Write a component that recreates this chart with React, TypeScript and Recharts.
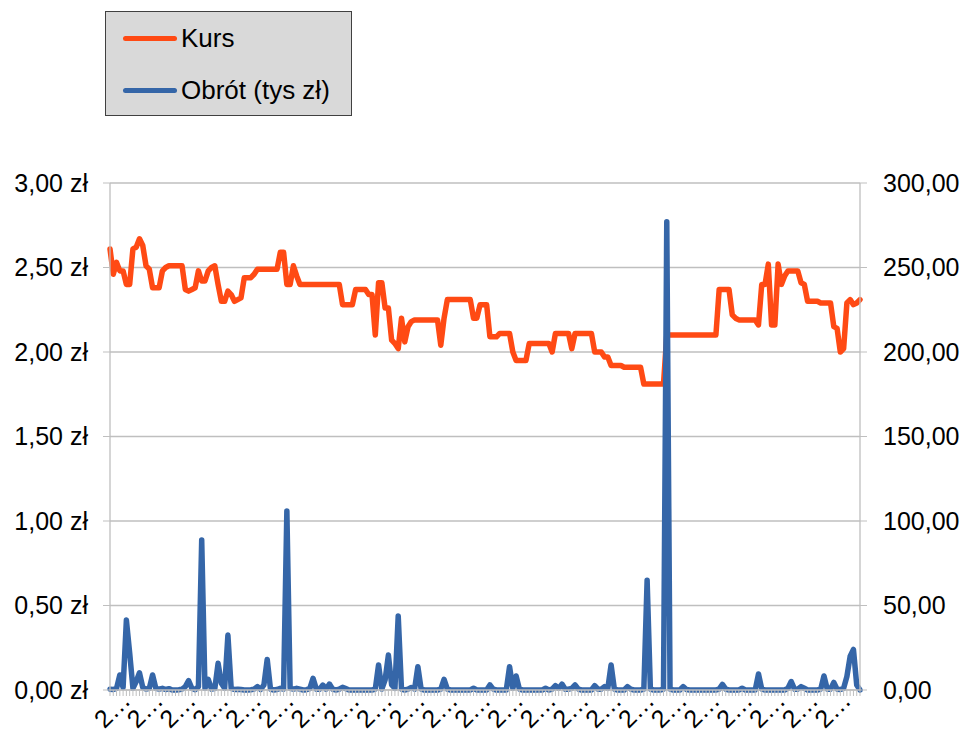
import React from 'react';
import { LineChart, Line, XAxis, YAxis, CartesianGrid } from 'recharts';

// Kurs (zł) – one value per session
const kurs = [
	2.61, 2.46, 2.53, 2.48, 2.48, 2.4, 2.4, 2.61, 2.62, 2.67,
	2.63, 2.51, 2.49, 2.38, 2.38, 2.38, 2.48, 2.5, 2.51, 2.51,
	2.51, 2.51, 2.51, 2.37, 2.36, 2.37, 2.38, 2.48, 2.42, 2.42,
	2.48, 2.5, 2.51, 2.4, 2.3, 2.3, 2.36, 2.34, 2.3, 2.31,
	2.32, 2.44, 2.44, 2.44, 2.46, 2.49, 2.49, 2.49, 2.49, 2.49,
	2.49, 2.49, 2.59, 2.59, 2.4, 2.4, 2.51, 2.45, 2.4, 2.4,
	2.4, 2.4, 2.4, 2.4, 2.4, 2.4, 2.4, 2.4, 2.4, 2.4,
	2.4, 2.28, 2.28, 2.28, 2.28, 2.37, 2.37, 2.37, 2.37, 2.34,
	2.34, 2.1, 2.41, 2.41, 2.26, 2.26, 2.07, 2.05, 2.02, 2.2,
	2.06, 2.15, 2.18, 2.19, 2.19, 2.19, 2.19, 2.19, 2.19, 2.19,
	2.19, 2.04, 2.2, 2.31, 2.31, 2.31, 2.31, 2.31, 2.31, 2.31,
	2.31, 2.2, 2.2, 2.28, 2.28, 2.28, 2.09, 2.09, 2.09, 2.11,
	2.11, 2.11, 2.11, 2.0, 1.95, 1.95, 1.95, 1.95, 2.05, 2.05,
	2.05, 2.05, 2.05, 2.05, 2.05, 2.0, 2.11, 2.11, 2.11, 2.11,
	2.11, 2.02, 2.11, 2.11, 2.11, 2.11, 2.11, 2.11, 2.0, 2.0,
	2.0, 1.97, 1.97, 1.92, 1.92, 1.92, 1.92, 1.91, 1.91, 1.91,
	1.91, 1.91, 1.91, 1.81, 1.81, 1.81, 1.81, 1.81, 1.81, 1.81,
	2.1, 2.1, 2.1, 2.1, 2.1, 2.1, 2.1, 2.1, 2.1, 2.1,
	2.1, 2.1, 2.1, 2.1, 2.1, 2.1, 2.37, 2.37, 2.37, 2.37,
	2.22, 2.2, 2.19, 2.19, 2.19, 2.19, 2.19, 2.19, 2.16, 2.4,
	2.4, 2.52, 2.16, 2.16, 2.52, 2.4, 2.45, 2.48, 2.48, 2.48,
	2.48, 2.41, 2.4, 2.3, 2.3, 2.3, 2.3, 2.29, 2.29, 2.29,
	2.29, 2.15, 2.14, 2.0, 2.02, 2.29, 2.31, 2.28, 2.29, 2.31,
];

// Obrót (tys zł)
const obrot = [
	0.5, 0.3, 1, 8.9, 1.5, 41.4, 22, 1, 5, 10.2,
	1.5, 0.5, 1, 8.9, 1, 0.5, 1, 0.3, 0.8, 0,
	0, 0.2, 0.5, 2, 5.5, 1, 0.2, 2, 88.8, 1,
	6.3, 0.5, 0.8, 15.8, 4, 1, 32.5, 1, 0.3, 0.5,
	0.3, 0, 0, 0.2, 0.5, 2, 0.3, 3, 18.1, 0.5,
	0, 0.3, 1, 0.5, 105.9, 1, 0.5, 1, 0.5, 0,
	0.2, 0.8, 6.9, 0.5, 0.5, 2.9, 0.5, 3.5, 0.5, 0,
	0.5, 1.6, 0.8, 0, 0, 0, 0, 0, 0, 0,
	0, 0.5, 14.8, 0.5, 6, 20.7, 3, 1, 43.8, 0.5,
	0, 0.5, 1.5, 0.5, 13.8, 0.5, 0, 0, 0, 0,
	0, 0.5, 6.3, 0.5, 0, 0, 0, 0, 0, 0,
	0, 1, 0, 0, 0, 0, 3, 0.5, 0, 0,
	0, 0, 13.8, 1, 8.3, 0.5, 0, 0, 0, 0,
	0, 0, 0, 1, 0, 0.5, 2.6, 1, 3.5, 0.5,
	0.5, 1, 3, 0.5, 0, 0, 0, 0, 2.6, 0.5,
	0.5, 2, 1, 14.8, 0.5, 0, 0, 0, 2, 0.5,
	0, 0, 0, 0.5, 65, 0.5, 0, 0, 0, 0.5,
	277, 0.5, 0, 0, 0, 2, 0.3, 0, 0, 0,
	0, 0, 0, 0, 0, 0, 0.5, 3.3, 0.5, 0,
	0, 0, 0, 1, 0, 0, 0, 0, 9.5, 0.5,
	0, 0, 0, 0, 0, 0, 0, 1, 5, 0.5,
	0.5, 2, 1, 0, 0, 0, 0, 0.5, 8.3, 0.5,
	0.5, 4.5, 0.5, 0.3, 1, 8, 20, 24, 3, 0,
];

const kursTicks = [0, 0.5, 1, 1.5, 2, 2.5, 3];
const obrotTicks = [0, 50, 100, 150, 200, 250, 300];
const dateLabel = '2…';
const labelEvery = 10;

const series = [
	{ key: 'kurs', name: 'Kurs', color: '#FF4A14', axis: 'left' },
	{ key: 'obrot', name: 'Obrót (tys zł)', color: '#3566A8', axis: 'right' },
];

const data = kurs.map((k, i) => ({ idx: i, kurs: k, obrot: obrot[i] }));

const FONT = '"Liberation Sans", Arial, sans-serif';
const GRID = '#bfbfbf';

const fmt = (v: number) => v.toFixed(2).replace('.', ',');

function DateTick(props: any) {
	const { x, y, index } = props;
	return (
		<g>
			<line x1={x} y1={y} x2={x} y2={y + 6} stroke={GRID} />
			{index % labelEvery === 0 && (
				<text
					transform={`translate(${x + 22},${y + 12}) rotate(-45)`}
					textAnchor='end'
					fontSize={25}
					fontFamily={FONT}
					fill='#000'
				>
					{dateLabel}
				</text>
			)}
		</g>
	);
}

function LegendBox() {
	return (
		<div
			style={{
				position: 'absolute',
				left: 105,
				top: 11,
				width: 245,
				height: 103,
				background: '#d9d9d9',
				border: '1px solid #404040',
				fontFamily: FONT,
				fontSize: 26,
				color: '#000',
			}}
		>
			{series.map((s, i) => (
				<div
					key={s.key}
					style={{ position: 'absolute', left: 17, top: 9 + i * 52, height: 34, display: 'flex', alignItems: 'center' }}
				>
					<span style={{ display: 'inline-block', width: 54, height: 5, borderRadius: 3, background: s.color, marginRight: 4 }} />
					<span>{s.name}</span>
				</div>
			))}
		</div>
	);
}

export default function App() {
	return (
		<div style={{ position: 'absolute', left: 0, top: 0, width: 964, height: 733, background: '#fff', overflow: 'hidden' }}>
			<LineChart width={964} height={733} data={data} margin={{ top: 183, right: 4, left: 10, bottom: 0 }}>
				<CartesianGrid vertical={false} stroke={GRID} strokeWidth={1.3} yAxisId='left' />
				<XAxis
					dataKey='idx'
					interval={0}
					height={43}
					tickSize={0}
					tickMargin={0}
					tickLine={false}
					axisLine={{ stroke: GRID, strokeWidth: 1.3 }}
					tick={<DateTick />}
				/>
				<YAxis
					yAxisId='left'
					domain={[0, 3]}
					ticks={kursTicks}
					width={100}
					tickFormatter={v => `${fmt(v)} zł`}
					tickSize={7}
					tickMargin={15}
					axisLine={{ stroke: GRID, strokeWidth: 1.3 }}
					tickLine={{ stroke: GRID }}
					tick={{ fontSize: 25, fill: '#000', fontFamily: FONT }}
				/>
				<YAxis
					yAxisId='right'
					orientation='right'
					domain={[0, 300]}
					ticks={obrotTicks}
					width={100}
					tickFormatter={v => fmt(v)}
					tickSize={7}
					tickMargin={16}
					axisLine={{ stroke: GRID, strokeWidth: 1.3 }}
					tickLine={{ stroke: GRID }}
					tick={{ fontSize: 25, fill: '#000', fontFamily: FONT, textAnchor: 'start' }}
				/>
				{series.map(s => (
					<Line
						key={s.key}
						yAxisId={s.axis}
						type='linear'
						dataKey={s.key}
						name={s.name}
						stroke={s.color}
						strokeWidth={5.5}
						strokeLinejoin='round'
						strokeLinecap='round'
						dot={false}
						activeDot={false}
						isAnimationActive={false}
					/>
				))}
			</LineChart>
			<LegendBox />
		</div>
	);
}
